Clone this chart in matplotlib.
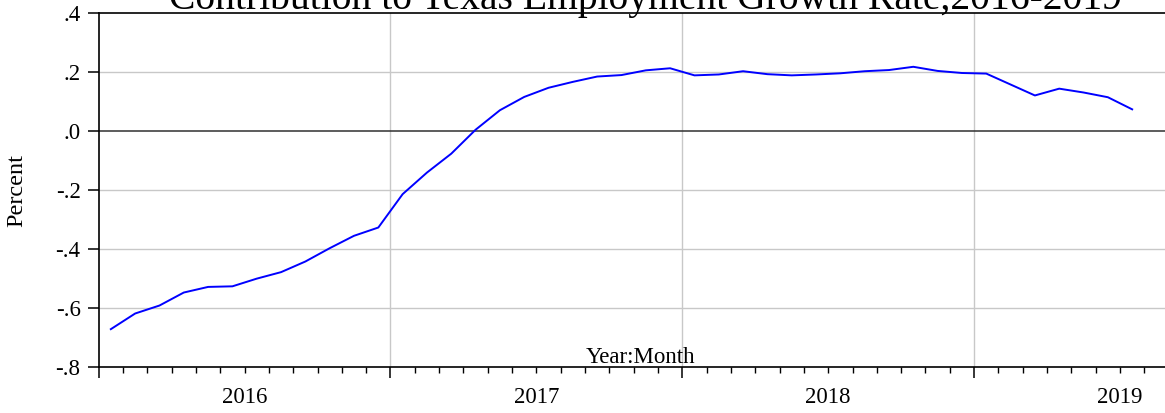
import matplotlib
matplotlib.use("Agg")
import matplotlib.pyplot as plt
import numpy as np

# 数据：2016年1月 - 2019年7月，月度
years = ["2016", "2017", "2018", "2019"]
values = [-0.671, -0.618, -0.591, -0.547, -0.528, -0.526, -0.500, -0.478,
          -0.442, -0.397, -0.355, -0.327, -0.214, -0.141, -0.077, 0.004,
          0.070, 0.115, 0.146, 0.166, 0.184, 0.189, 0.205, 0.212,
          0.188, 0.191, 0.202, 0.192, 0.188, 0.191, 0.195, 0.202,
          0.206, 0.217, 0.203, 0.196, 0.194, 0.157, 0.120, 0.143,
          0.130, 0.114, 0.073]
ytick_vals = [0.4, 0.2, 0.0, -0.2, -0.4, -0.6, -0.8]
ytick_labels = [".4", ".2", ".0", "-.2", "-.4", "-.6", "-.8"]
title = "Contribution to Texas Employment Growth Rate,2016-2019"

plt.rcParams['font.family'] = ['Liberation Serif', 'DejaVu Serif']

fig = plt.figure(figsize=(11.65, 4.13), dpi=100)
ax = fig.add_axes([0.0847, 0.1107, 0.9153, 0.8585])

# 月份位置（每月中点）
x = np.arange(len(values)) + 0.5
ax.plot(x, values, color='#0000ff', lw=1.4, zorder=3)

ax.set_xlim(0, 43.85)
ax.set_ylim(-0.8, 0.4)

# 网格线
for yv in ytick_vals:
    if yv == 0.0:
        ax.axhline(0, color='#303030', lw=1.1, zorder=2)
    elif -0.8 < yv < 0.4:
        ax.axhline(yv, color='#c8c8c8', lw=1.0, zorder=1)
for k in range(1, len(years)):
    ax.axvline(12 * k, color='#c8c8c8', lw=1.0, zorder=1)

# y轴刻度
ax.set_yticks(ytick_vals)
ax.set_yticklabels(ytick_labels)
ax.tick_params(axis='y', direction='out', length=8, width=1.1, pad=5, labelsize=16.5)

# x轴刻度：年边界为主刻度，月为次刻度
ax.set_xticks([12 * k for k in range(len(years))])
ax.set_xticklabels([''] * len(years))
minor = [m for m in range(1, 44) if m % 12]
ax.set_xticks(minor, minor=True)
ax.set_xticklabels([years[m // 12] if m % 12 == 6 else '' for m in minor], minor=True)
ax.tick_params(axis='x', which='major', direction='out', length=8, width=1.1)
ax.tick_params(axis='x', which='minor', direction='out', length=4.5, width=1.0,
               pad=10, labelsize=16.5)

for s in ['left', 'bottom', 'top']:
    ax.spines[s].set_linewidth(1.2)
    ax.spines[s].set_color('black')
ax.spines['right'].set_visible(False)

ax.annotate("Year:Month", xy=(0.508, 0), xycoords='axes fraction', xytext=(0, 3),
            textcoords='offset points', ha='center', va='baseline', fontsize=16.5)

fig.text(17 / 1165, 0.1107 + 0.8585 / 2, "Percent", rotation=90, ha='center',
         va='center', fontsize=17.5)
fig.text(645 / 1165, 1 - 9.5 / 413, title, ha='center', va='baseline', fontsize=28.5)

fig.savefig("out.png", dpi=100)
